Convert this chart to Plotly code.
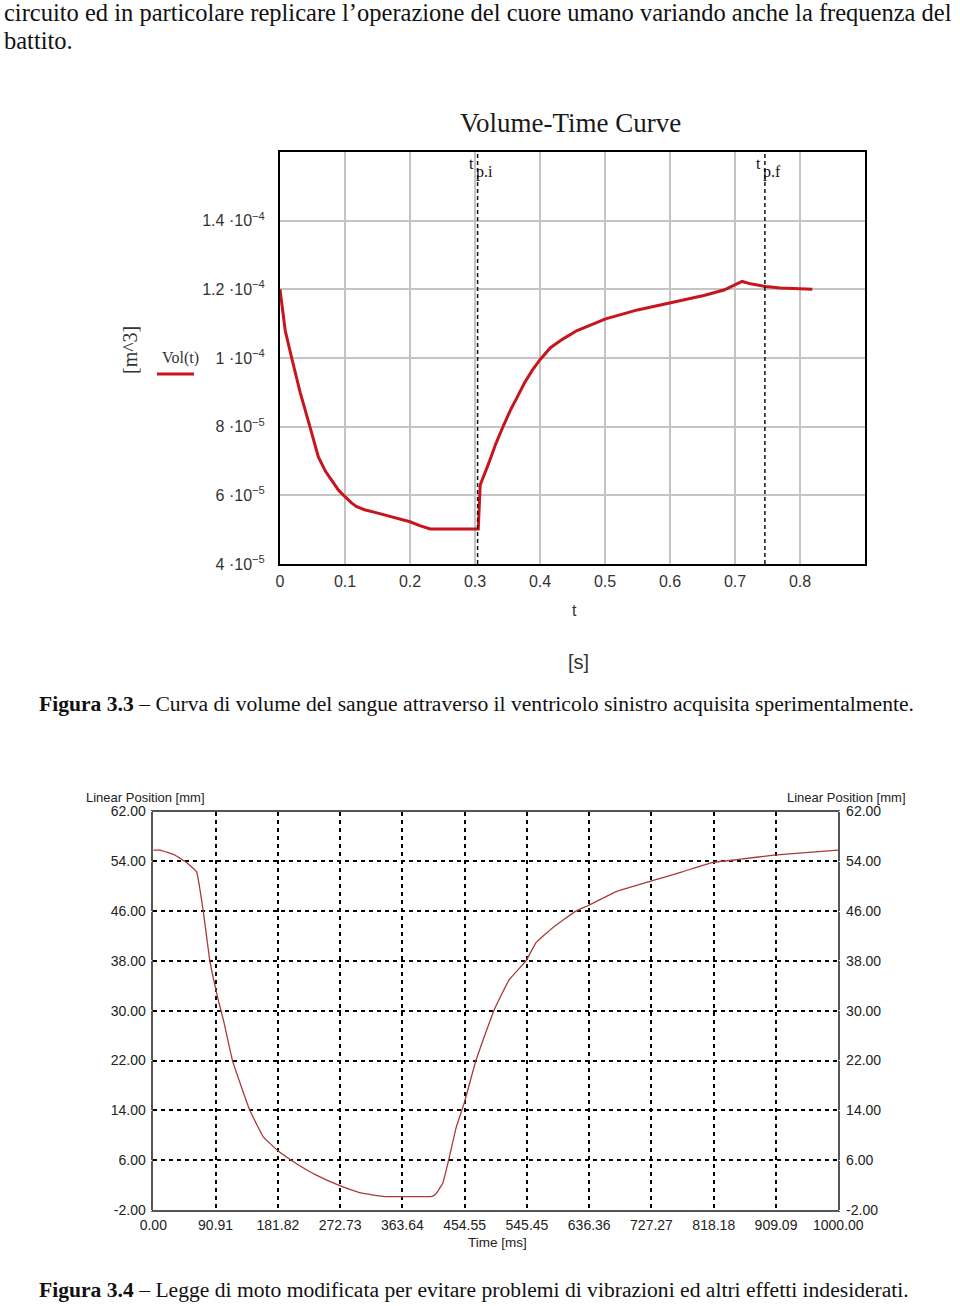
import plotly.graph_objects as go

W, H = 960, 1306


def px(x):
    return x / W


def py(y):
    return 1 - y / H


# ---------------- Chart 1 data (Volume-Time Curve) ----------------
t_vol = [0.0, 0.004, 0.008, 0.018, 0.031, 0.046, 0.059, 0.070, 0.082, 0.090, 0.100, 0.110, 0.118,
         0.130, 0.149, 0.175, 0.200, 0.215, 0.231, 0.305, 0.308, 0.321, 0.332, 0.344, 0.355,
         0.365, 0.376, 0.388, 0.400, 0.416, 0.435, 0.457, 0.480, 0.501, 0.550, 0.601, 0.652,
         0.683, 0.711, 0.724, 0.747, 0.770, 0.819]
vol = [1.20e-4, 1.14e-4, 1.08e-4, 1.00e-4, 9.0e-5, 8.0e-5, 7.12e-5, 6.7e-5, 6.35e-5, 6.15e-5, 5.96e-5,
       5.78e-5, 5.67e-5, 5.58e-5, 5.49e-5, 5.36e-5, 5.23e-5, 5.12e-5, 5.02e-5, 5.02e-5, 6.3e-5,
       6.93e-5, 7.5e-5, 8.04e-5, 8.5e-5, 8.86e-5, 9.27e-5, 9.64e-5, 9.95e-5, 1.03e-4, 1.055e-4,
       1.08e-4, 1.098e-4, 1.114e-4, 1.140e-4, 1.162e-4, 1.182e-4, 1.198e-4, 1.223e-4, 1.216e-4,
       1.208e-4, 1.204e-4, 1.20e-4]
t_markers = [0.304, 0.746]
marker_names = ["p.i", "p.f"]
x1_ticks = [0, 0.1, 0.2, 0.3, 0.4, 0.5, 0.6, 0.7, 0.8]
x1_labels = ["0", "0.1", "0.2", "0.3", "0.4", "0.5", "0.6", "0.7", "0.8"]
y1_ticks = [4e-5, 6e-5, 8e-5, 1e-4, 1.2e-4, 1.4e-4]
y1_labels = ["4 ·10<sup>−5</sup>", "6 ·10<sup>−5</sup>", "8 ·10<sup>−5</sup>",
             "1 ·10<sup>−4</sup>", "1.2 ·10<sup>−4</sup>", "1.4 ·10<sup>−4</sup>"]

# ---------------- Chart 2 data (Linear Position) ----------------
time_ms = [0, 10, 31.6, 48.6, 63.2, 72.9, 82.6, 94.7, 103, 115.6, 140.9, 160.3, 182, 204,
           238, 272.4, 301, 335, 407, 412.9, 422.5, 432, 442, 454, 471, 497.8, 519.7, 544,
           558.5, 582.7, 616.8, 635, 675, 726, 772, 815.8, 854.7, 905.7, 952, 1000]
pos_mm = [55.8, 55.8, 55.0, 53.8, 52.3, 46.0, 38.0, 31.8, 28.2, 22.0, 14.0, 9.8, 7.5, 5.8,
          3.6, 1.9, 0.8, 0.2, 0.2, 0.66, 2.3, 6.4, 11.2, 15.2, 22.0, 30.2, 35.0, 38.0,
          40.9, 43.3, 46.0, 46.9, 49.1, 50.8, 52.3, 53.8, 54.3, 55.0, 55.4, 55.8]
x2_ticks = [0.00, 90.91, 181.82, 272.73, 363.64, 454.55, 545.45, 636.36, 727.27, 818.18, 909.09, 1000.00]
y2_ticks = [-2, 6, 14, 22, 30, 38, 46, 54, 62]

fig = go.Figure()

# Chart 1 traces
fig.add_trace(go.Scatter(x=t_vol, y=vol, mode="lines", xaxis="x", yaxis="y",
                         line=dict(color="#c8141c", width=3), showlegend=False))
for tm in t_markers:
    fig.add_trace(go.Scatter(x=[tm, tm], y=[4e-5, 1.6e-4], mode="lines", xaxis="x", yaxis="y",
                             line=dict(color="#111111", width=1.5, dash="4px,3px"),
                             showlegend=False, hoverinfo="skip"))

# Chart 2 traces
fig.add_trace(go.Scatter(x=time_ms, y=pos_mm, mode="lines", xaxis="x2", yaxis="y2",
                         line=dict(color="#a83a3a", width=1.3, shape="spline", smoothing=0.3),
                         showlegend=False))
fig.add_trace(go.Scatter(x=time_ms, y=pos_mm, mode="lines", xaxis="x2", yaxis="y3",
                         line=dict(color="rgba(0,0,0,0)", width=0), showlegend=False,
                         hoverinfo="skip"))

sans = "Liberation Sans, Arial, sans-serif"
serif = "Liberation Serif, Times New Roman, serif"

fig.update_layout(
    width=W, height=H, margin=dict(l=0, r=0, t=0, b=0, autoexpand=False),
    paper_bgcolor="white", plot_bgcolor="white",
    xaxis=dict(domain=[px(280), px(865)], range=[0, 0.9], anchor="y", automargin=False,
               tickvals=x1_ticks, ticktext=x1_labels,
               showgrid=True, gridcolor="#c4c4c4", gridwidth=1.5,
               showline=True, linecolor="black", linewidth=2, mirror=True,
               ticks="outside", ticklen=2, tickcolor="white",
               tickfont=dict(family=sans, size=16, color="#333"), zeroline=False),
    yaxis=dict(domain=[py(564), py(152)], range=[4e-5, 1.6e-4], anchor="x", automargin=False,
               tickvals=y1_ticks, ticktext=y1_labels,
               showgrid=True, gridcolor="#c4c4c4", gridwidth=1.5,
               showline=True, linecolor="black", linewidth=2, mirror=True,
               ticks="outside", ticklen=10, tickcolor="white",
               tickfont=dict(family=sans, size=16, color="#333"), zeroline=False),
    xaxis2=dict(domain=[px(153.3), px(838.3)], range=[0, 1000], anchor="y2", automargin=False,
                tickvals=x2_ticks, ticktext=[f"{v:.2f}" for v in x2_ticks],
                showgrid=True, gridcolor="black", gridwidth=1.5, griddash="4px,4px",
                showline=True, linecolor="#555", linewidth=1.5, mirror=True,
                ticks="outside", ticklen=1, tickcolor="white",
                tickfont=dict(family=sans, size=14, color="#222"), zeroline=False),
    yaxis2=dict(domain=[py(1210), py(811.5)], range=[-2, 62], anchor="x2", automargin=False,
                tickvals=y2_ticks, ticktext=[f"{v:.2f}" for v in y2_ticks],
                showgrid=True, gridcolor="black", gridwidth=1.5, griddash="4px,4px",
                showline=True, linecolor="#555", linewidth=1.5, mirror=True,
                ticks="outside", ticklen=3, tickcolor="white",
                tickfont=dict(family=sans, size=14, color="#222"), zeroline=False),
    yaxis3=dict(domain=[py(1210), py(811.5)], range=[-2, 62], anchor="x2", automargin=False,
                overlaying="y2", side="right",
                tickvals=y2_ticks, ticktext=[f"{v:.2f}" for v in y2_ticks],
                showgrid=False, showline=False,
                ticks="outside", ticklen=4, tickcolor="white",
                tickfont=dict(family=sans, size=14, color="#222"), zeroline=False),
)

ann = []


def add_text(text, x, y, size, family=serif, color="#111", xanchor="center", angle=0):
    ann.append(dict(text=text, x=px(x), y=py(y), xref="paper", yref="paper",
                    xanchor=xanchor, yanchor="middle", showarrow=False, textangle=angle,
                    font=dict(family=family, size=size, color=color)))


# page text
add_text("circuito ed in particolare replicare l’operazione del cuore umano variando anche la frequenza del",
         2, 12, 24.5, xanchor="left")
add_text("battito.", 2, 40, 24.5, xanchor="left")
add_text("<b>Figura 3.3</b> – Curva di volume del sangue attraverso il ventricolo sinistro acquisita sperimentalmente.",
         37, 704, 21.6, xanchor="left")
add_text("<b>Figura 3.4</b> – Legge di moto modificata per evitare problemi di vibrazioni ed altri effetti indesiderati.",
         37, 1290, 21.6, xanchor="left")

# chart 1 texts
add_text("Volume-Time Curve", 570, 123, 27, color="#1a1a1a")
for tm, nm in zip(t_markers, marker_names):
    xm = 280 + tm / 0.9 * 585
    add_text("t", xm - 6, 163, 16)
    add_text(nm, xm - 4, 172, 16, xanchor="left")
add_text("t", 574, 611, 16, family=sans, color="#333")
add_text("[s]", 578, 662, 20, family=sans, color="#333")
add_text("[m^3]", 130, 350, 20, angle=-90, color="#333")
add_text("Vol(t)", 180, 358, 16, color="#333")

# chart 2 texts
add_text("Linear Position [mm]", 145, 797, 13, family=sans, color="#222")
add_text("Linear Position [mm]", 846, 797, 13, family=sans, color="#222")
add_text("Time [ms]", 497, 1242, 13.5, family=sans, color="#222")

fig.update_layout(annotations=ann)

# legend sample line for Vol(t)
fig.add_shape(type="line", xref="paper", yref="paper", x0=px(157), x1=px(194), y0=py(374), y1=py(374),
              line=dict(color="#c8141c", width=3))

fig.write_html("out.html")
